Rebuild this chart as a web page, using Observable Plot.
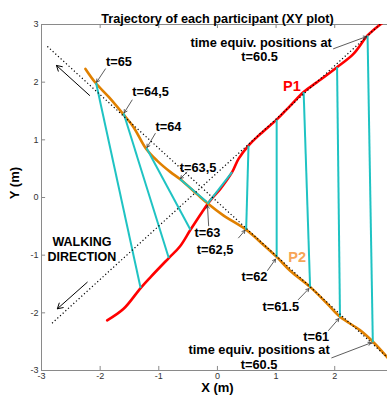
<!DOCTYPE html>
<html><head><meta charset="utf-8">
<script src="https://cdn.jsdelivr.net/npm/d3@7"></script>
<script src="https://cdn.jsdelivr.net/npm/@observablehq/plot@0.6"></script>
<style>html,body{margin:0;padding:0;background:#fff;overflow:hidden} svg{display:block}</style>
</head><body><div id="chart"></div>
<script>
// Participant 1 (red) trajectory
const p1X = [-1.88,-1.60,-1.31,-1.14,-0.83,-0.64,-0.46,-0.26,-0.12,0.05,0.25,0.36,0.53,0.73,1.01,1.24,1.47,1.70,2.04,2.32,2.56,2.75,2.95];
const p1Y = [-2.13,-1.93,-1.57,-1.38,-1.05,-0.85,-0.56,-0.25,-0.05,0.15,0.44,0.67,0.90,1.10,1.35,1.59,1.83,2.00,2.26,2.49,2.81,2.98,3.12];
// Participant 2 (orange) trajectory
const p2X = [-2.25,-2.08,-1.85,-1.61,-1.43,-1.22,-1.03,-0.80,-0.64,-0.35,-0.17,0.10,0.49,0.73,1.01,1.24,1.58,1.87,2.09,2.43,2.66,2.92];
const p2Y = [2.23,1.99,1.74,1.45,1.22,0.85,0.64,0.44,0.32,0.06,-0.10,-0.31,-0.56,-0.77,-1.03,-1.27,-1.55,-1.84,-2.07,-2.30,-2.51,-2.80];
// time-equivalent positions
const eqTimes = ["65","64,5","64","63,5","63","62,5","62","61.5","61","60.5"];
const eqP2X = [-2.07,-1.60,-1.21,-0.64,-0.17,0.49,1.01,1.58,2.09,2.65];
const eqP2Y = [1.99,1.46,0.86,0.32,-0.11,-0.56,-1.03,-1.55,-2.07,-2.51];
const eqP1X = [-1.31,-0.83,-0.46,-0.18,0.25,0.53,1.01,1.47,2.04,2.56];
const eqP1Y = [-1.57,-1.05,-0.56,-0.08,0.44,0.90,1.35,1.83,2.26,2.81];
// straight reference (dotted) lines
const refLines = [
  {x1:-2.90, y1:2.62, x2:2.98, y2:-2.85},
  {x1:-2.82, y1:-2.18, x2:2.90, y2:3.12}
];
// tick labels
const xTicks = [-3,-2,-1,0,1,2];
const yTicks = [-3,-2,-1,0,1,2,3];

const p1 = p1X.map((x,i)=>({x, y:p1Y[i]}));
const p2 = p2X.map((x,i)=>({x, y:p2Y[i]}));
const pairs = eqTimes.map((t,i)=>({t, x1:eqP2X[i], y1:eqP2Y[i], x2:eqP1X[i], y2:eqP1Y[i]}));

// annotation labels (text position and pointer arrow)
const notes = [
  {text:"t=65",   tx:-1.68, ty:2.35,  ax1:-1.91, ay1:2.23,  ax2:-2.06, ay2:2.00},
  {text:"t=64,5", tx:-1.14, ty:1.83,  ax1:-1.455,ay1:1.69,  ax2:-1.59, ay2:1.47},
  {text:"t=64",   tx:-0.835,ty:1.23,  ax1:-1.06, ay1:1.11,  ax2:-1.20, ay2:0.87},
  {text:"t=63,5", tx:-0.33, ty:0.515, ax1:-0.52, ay1:0.44,  ax2:-0.63, ay2:0.33},
  {text:"t=63",   tx:-0.17, ty:-0.62, ax1:-0.15, ay1:-0.49, ax2:-0.17, ay2:-0.14},
  {text:"t=62,5", tx:-0.04, ty:-0.91, ax1:0.36,  ay1:-0.70, ax2:0.47,  ay2:-0.57},
  {text:"t=62",   tx:0.63,  ty:-1.38, ax1:0.855, ay1:-1.265,ax2:0.99,  ay2:-1.07},
  {text:"t=61.5", tx:1.08,  ty:-1.89, ax1:1.38,  ay1:-1.77, ax2:1.56,  ay2:-1.58},
  {text:"t=61",   tx:1.685, ty:-2.41, ax1:1.895, ay1:-2.305,ax2:2.07,  ay2:-2.10},
  {text:"time equiv. positions at", tx:0.71, ty:-2.65, ax1:1.95, ay1:-2.78, ax2:2.62, ay2:-2.52},
  {text:"t=60.5", tx:0.71, ty:-2.895},
  {text:"time equiv. positions at", tx:0.745, ty:2.68, ax1:1.98, ay1:2.58, ax2:2.54, ay2:2.79},
  {text:"t=60.5", tx:0.72, ty:2.44}
];
const walkArrows = [
  {x1:-2.18, y1:1.77, x2:-2.745, y2:2.29},
  {x1:-2.22, y1:-1.47, x2:-2.73, y2:-1.93}
];
const font = "Liberation Sans, Arial, Helvetica, sans-serif";
const axisColor = "#8a8a8a";

const chart = Plot.plot({
  width: 387, height: 401,
  marginLeft: 41, marginRight: 0, marginTop: 24, marginBottom: 31,
  style: {fontFamily: font, background: "#fff"},
  x: {domain: [-3, 2.9], axis: null},
  y: {domain: [-3, 3], axis: null},
  marks: [
    // frame (left, top, bottom)
    Plot.ruleY([-3, 3], {stroke: axisColor}),
    Plot.ruleX([-3], {stroke: axisColor}),
    // inward ticks
    Plot.ruleX(xTicks.slice(1), {x: d=>d, y1: -3, y2: -2.93, stroke: axisColor}),
    Plot.ruleX(xTicks.slice(1), {x: d=>d, y1: 3, y2: 2.93, stroke: axisColor}),
    Plot.ruleY(yTicks.slice(1,-1), {y: d=>d, x1: -3, x2: -2.93, stroke: axisColor}),
    // tick labels
    Plot.text(xTicks, {x: d=>d, frameAnchor: "bottom", dy: 8, text: d=>String(d), fontSize: 9, fill: "#333"}),
    Plot.text(yTicks, {y: d=>d, frameAnchor: "left", dx: -3, textAnchor: "end", text: d=>String(d), fontSize: 9, fill: "#333"}),
    // trajectories
    Plot.line(p1, {x: "x", y: "y", stroke: "#ff0000", strokeWidth: 2.6, curve: "catmull-rom", clip: true}),
    Plot.line(p2, {x: "x", y: "y", stroke: "#e08000", strokeWidth: 2.6, curve: "catmull-rom", clip: true}),
    Plot.link(pairs, {x1: "x1", y1: "y1", x2: "x2", y2: "y2", stroke: "#1fc3c3", strokeWidth: 2}),
    Plot.link(refLines, {x1: "x1", y1: "y1", x2: "x2", y2: "y2", stroke: "#000", strokeWidth: 1.2, strokeDasharray: "1.2,2.4", clip: true}),
    // walking direction arrows
    Plot.arrow(walkArrows, {x1: "x1", y1: "y1", x2: "x2", y2: "y2", stroke: "#000", strokeWidth: 1, headLength: 9}),
    // annotation pointers
    Plot.arrow(notes.filter(d=>d.ax1 !== undefined), {x1: "ax1", y1: "ay1", x2: "ax2", y2: "ay2", stroke: "#333", strokeWidth: 0.8, headLength: 6}),
    Plot.text(notes, {x: "tx", y: "ty", text: "text", fontSize: 12.8, fontWeight: "bold", fill: "#000"}),
    // labels
    Plot.text(["P1"], {x: 1.27, y: 1.92, text: d=>d, fontSize: 14.5, fontWeight: "bold", fill: "#ff0000"}),
    Plot.text(["P2"], {x: 1.36, y: -1.035, text: d=>d, fontSize: 14.5, fontWeight: "bold", fill: "#f7a558"}),
    Plot.text(["WALKING"], {x: -2.31, y: -0.775, text: d=>d, fontSize: 12.5, fontWeight: "bold", fill: "#000"}),
    Plot.text(["DIRECTION"], {x: -2.31, y: -1.035, text: d=>d, fontSize: 12.5, fontWeight: "bold", fill: "#000"}),
    // title and axis labels
    Plot.text(["Trajectory of each participant (XY plot)"], {x: 0, frameAnchor: "top", dy: -11, text: d=>d, fontSize: 12.7, fontWeight: "bold", fill: "#000"}),
    Plot.text(["X (m)"], {x: 0, frameAnchor: "bottom", dy: 21, text: d=>d, fontSize: 13, fontWeight: "bold", fill: "#000"}),
    Plot.text(["Y (m)"], {y: -0.03, frameAnchor: "left", dx: -27, rotate: -90, text: d=>d, fontSize: 13, fontWeight: "bold", fill: "#000"})
  ]
});
document.getElementById("chart").append(chart);
</script>
</body></html>
